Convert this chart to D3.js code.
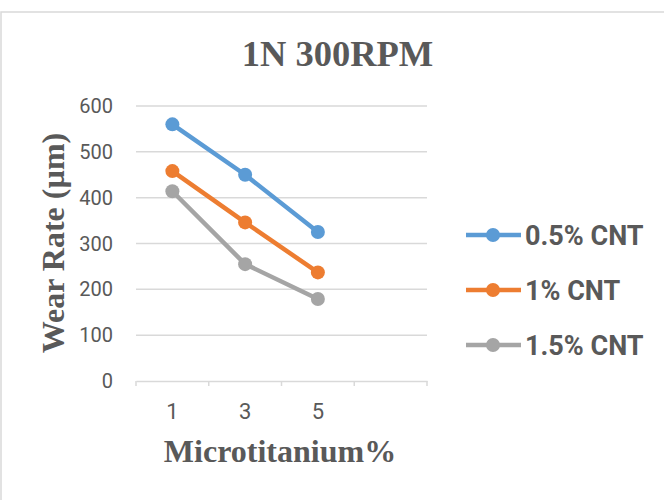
<!DOCTYPE html>
<html><head><meta charset="utf-8">
<script src="https://cdn.jsdelivr.net/npm/d3@7/dist/d3.min.js"></script>
<style>body{margin:0;background:#fff}svg{display:block}</style>
</head><body>
<svg id="c" width="664" height="500"></svg>
<script>
const title = "1N 300RPM";
const xTitle = "Microtitanium%";
const yTitle = "Wear Rate (µm)";
const categories = ["1", "3", "5", ""];
const seriesNames = ["0.5% CNT", "1% CNT", "1.5% CNT"];
const seriesColors = ["#5b9bd5", "#ed7d31", "#a5a5a5"];
const cnt05 = [560, 450, 325];
const cnt10 = [458, 346, 237];
const cnt15 = [414, 255, 179];
const yTicks = [0, 100, 200, 300, 400, 500, 600];

const series = [cnt05, cnt10, cnt15].map((v, i) => ({name: seriesNames[i], color: seriesColors[i], values: v}));
const svg = d3.select("#c");
const textColor = "#595959";
const gridColor = "#d9d9d9";

// chart frame
svg.append("rect").attr("x", 1).attr("y", 12).attr("width", 700).attr("height", 600)
  .attr("fill", "#fff").attr("stroke", gridColor).attr("stroke-width", 1.5);

const x = d3.scaleBand().domain(categories).range([136, 427]).padding(0);
const y = d3.scaleLinear().domain([0, 600]).range([381, 106]);

// gridlines
svg.append("g").selectAll("line").data(yTicks.filter(d => d > 0)).join("line")
  .attr("x1", 136).attr("x2", 427).attr("y1", d => y(d)).attr("y2", d => y(d))
  .attr("stroke", gridColor).attr("stroke-width", 1.5);

// y labels
svg.append("g").selectAll("text").data(yTicks).join("text")
  .attr("x", 113).attr("y", d => y(d) + 7).attr("text-anchor", "end")
  .attr("font-family", "Roboto").attr("font-size", 20).attr("fill", textColor).text(d => d);

// x axis
const xAxis = d3.axisBottom(x).tickSizeOuter(0).tickSize(0).tickFormat(d => d);
const gx = svg.append("g").attr("transform", `translate(0,${y(0)})`).call(xAxis);
gx.select(".domain").attr("stroke", gridColor).attr("stroke-width", 1.5);
gx.selectAll(".tick text").attr("font-family", "Roboto").attr("font-size", 22).attr("fill", textColor).attr("dy", 0).attr("y", 38);
// between-category tick marks
const bounds = categories.map(c => x(c)).concat([x(categories[categories.length - 1]) + x.bandwidth()]);
svg.append("g").selectAll("line").data(bounds).join("line")
  .attr("x1", d => d).attr("x2", d => d).attr("y1", y(0)).attr("y2", y(0) + 5)
  .attr("stroke", gridColor).attr("stroke-width", 1.5);

// lines and markers
const line = d3.line().x((d, i) => x(categories[i]) + x.bandwidth() / 2).y(d => y(d));
series.forEach(s => {
  svg.append("path").datum(s.values).attr("d", line).attr("fill", "none")
    .attr("stroke", s.color).attr("stroke-width", 4.5).attr("stroke-linejoin", "round");
  svg.append("g").selectAll("circle").data(s.values).join("circle")
    .attr("cx", (d, i) => x(categories[i]) + x.bandwidth() / 2).attr("cy", d => y(d))
    .attr("r", 7).attr("fill", s.color);
});

// title
svg.append("text").attr("x", 337.5).attr("y", 66).attr("text-anchor", "middle")
  .attr("font-family", "Liberation Serif").attr("font-weight", "bold").attr("font-size", 36.5)
  .attr("fill", textColor).text(title);

// axis titles
svg.append("text").attr("transform", "translate(64,243) rotate(-90)").attr("text-anchor", "middle")
  .attr("font-family", "Liberation Serif").attr("font-weight", "bold").attr("font-size", 32)
  .attr("fill", textColor).text(yTitle);
svg.append("text").attr("x", 280).attr("y", 462).attr("text-anchor", "middle")
  .attr("font-family", "Liberation Serif").attr("font-weight", "bold").attr("font-size", 32)
  .attr("fill", textColor).text(xTitle);

// legend
const lg = svg.append("g").selectAll("g").data(series).join("g")
  .attr("transform", (d, i) => `translate(0,${235 + i * 55})`);
lg.append("line").attr("x1", 466).attr("x2", 521).attr("y1", 0).attr("y2", 0)
  .attr("stroke", d => d.color).attr("stroke-width", 4.5);
lg.append("circle").attr("cx", 493).attr("cy", 0).attr("r", 7).attr("fill", d => d.color);
lg.append("text").attr("x", 525).attr("y", 10).attr("font-family", "Roboto").attr("font-weight", "bold")
  .attr("font-size", 27).attr("fill", textColor).text(d => d.name);
</script>
</body></html>
